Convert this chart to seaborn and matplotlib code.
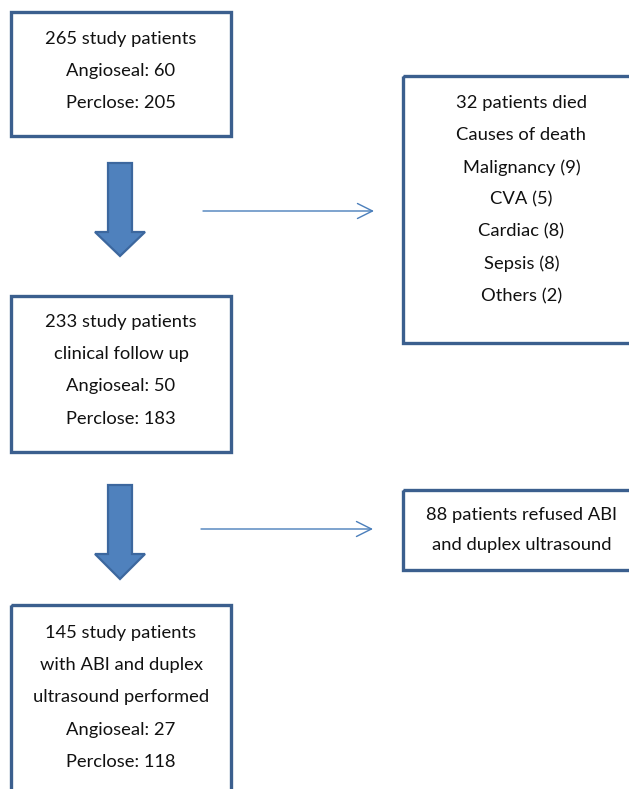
import matplotlib
matplotlib.use("Agg")
import matplotlib.pyplot as plt
import seaborn as sns
from matplotlib.patches import Rectangle, Polygon

sns.set_theme(style="white")
plt.rcParams['font.family'] = ['Lato', 'DejaVu Sans']

# box contents
box1_lines = ["265 study patients", "Angioseal: 60", "Perclose: 205"]
box2_lines = ["233 study patients", "clinical follow up", "Angioseal: 50", "Perclose: 183"]
box3_lines = ["145 study patients", "with ABI and duplex", "ultrasound performed",
              "Angioseal: 27", "Perclose: 118"]
died_lines = ["32 patients died", "Causes of death", "Malignancy (9)", "CVA (5)",
              "Cardiac (8)", "Sepsis (8)", "Others (2)"]
refused_lines = ["88 patients refused ABI", "and duplex ultrasound"]

edge = "#3B5F8E"
fill = "#4F81BD"
thin = "#4A7EBB"

fig = plt.figure(figsize=(6.29, 7.89), dpi=100)
ax = fig.add_axes([0, 0, 1, 1])
ax.set_xlim(0, 629)
ax.set_ylim(789, 0)
ax.axis('off')


def box(x0, y0, x1, y1, lines, ty, step=32.2):
    ax.add_patch(Rectangle((x0, y0), x1 - x0, y1 - y0, fill=False,
                           edgecolor=edge, lw=2.4, clip_on=False))
    cx = (x0 + x1) / 2
    for i, t in enumerate(lines):
        ax.text(cx, ty + i * step, t, ha='center', va='center', fontsize=13.2,
                color='#111111')


def block_arrow(y_top, y_base, y_tip):
    pts = [(108, y_top), (132, y_top), (132, y_base), (145, y_base),
           (120, y_tip), (95, y_base), (108, y_base)]
    ax.add_patch(Polygon(pts, closed=True, facecolor=fill, edgecolor="#3C679E", lw=1.6))


def thin_arrow(x0, x1, y):
    ax.annotate('', xy=(x1, y), xytext=(x0, y),
                arrowprops=dict(arrowstyle='->,head_length=0.6,head_width=0.3',
                                color=thin, lw=1.0, mutation_scale=18,
                                shrinkA=0, shrinkB=0))


box(11, 12, 231, 136, box1_lines, 39)
box(11, 296, 231, 452, box2_lines, 322)
box(11, 605, 231, 800, box3_lines, 633)
box(403, 76, 640, 343, died_lines, 103)
box(403, 490, 640, 570, refused_lines, 515, step=30)

block_arrow(163, 232, 256)
block_arrow(485, 554, 579)
thin_arrow(203, 374, 211)
thin_arrow(201, 373, 529)

fig.savefig("out.png", dpi=100)
